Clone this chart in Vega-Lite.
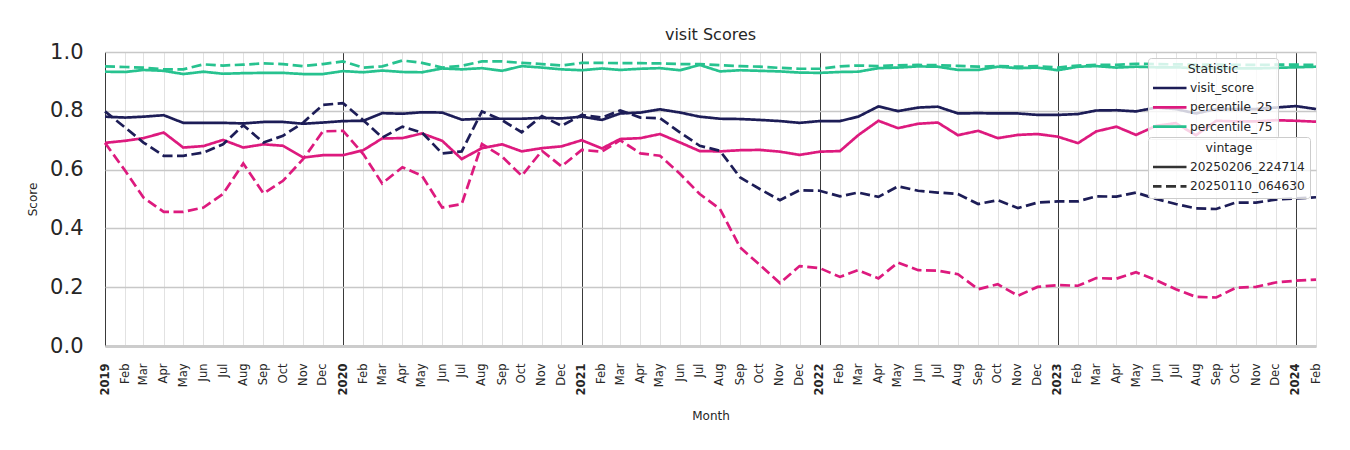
{
  "$schema": "https://vega.github.io/schema/vega-lite/v6.json",
  "width": 1211,
  "height": 294,
  "autosize": "none",
  "padding": {"left": 105, "top": 52, "right": 34, "bottom": 104},
  "background": "white",
  "title": {"text": "visit Scores", "fontSize": 16, "font": "DejaVu Sans", "fontWeight": "normal", "color": "#262626", "offset": -2},
  "data": {"values": [
    {"month":"2019-01-01","vintage":"20250206_224714","visit_score":0.780,"percentile_25":0.691,"percentile_75":0.933},
    {"month":"2019-02-01","vintage":"20250206_224714","visit_score":0.777,"percentile_25":0.698,"percentile_75":0.932},
    {"month":"2019-03-01","vintage":"20250206_224714","visit_score":0.780,"percentile_25":0.707,"percentile_75":0.939},
    {"month":"2019-04-01","vintage":"20250206_224714","visit_score":0.785,"percentile_25":0.726,"percentile_75":0.936},
    {"month":"2019-05-01","vintage":"20250206_224714","visit_score":0.759,"percentile_25":0.675,"percentile_75":0.925},
    {"month":"2019-06-01","vintage":"20250206_224714","visit_score":0.759,"percentile_25":0.680,"percentile_75":0.933},
    {"month":"2019-07-01","vintage":"20250206_224714","visit_score":0.759,"percentile_25":0.701,"percentile_75":0.926},
    {"month":"2019-08-01","vintage":"20250206_224714","visit_score":0.757,"percentile_25":0.675,"percentile_75":0.928},
    {"month":"2019-09-01","vintage":"20250206_224714","visit_score":0.762,"percentile_25":0.686,"percentile_75":0.929},
    {"month":"2019-10-01","vintage":"20250206_224714","visit_score":0.762,"percentile_25":0.681,"percentile_75":0.929},
    {"month":"2019-11-01","vintage":"20250206_224714","visit_score":0.756,"percentile_25":0.641,"percentile_75":0.925},
    {"month":"2019-12-01","vintage":"20250206_224714","visit_score":0.760,"percentile_25":0.649,"percentile_75":0.925},
    {"month":"2020-01-01","vintage":"20250206_224714","visit_score":0.765,"percentile_25":0.649,"percentile_75":0.935},
    {"month":"2020-02-01","vintage":"20250206_224714","visit_score":0.766,"percentile_25":0.666,"percentile_75":0.931},
    {"month":"2020-03-01","vintage":"20250206_224714","visit_score":0.792,"percentile_25":0.706,"percentile_75":0.937},
    {"month":"2020-04-01","vintage":"20250206_224714","visit_score":0.790,"percentile_25":0.707,"percentile_75":0.932},
    {"month":"2020-05-01","vintage":"20250206_224714","visit_score":0.795,"percentile_25":0.723,"percentile_75":0.931},
    {"month":"2020-06-01","vintage":"20250206_224714","visit_score":0.794,"percentile_25":0.698,"percentile_75":0.944},
    {"month":"2020-07-01","vintage":"20250206_224714","visit_score":0.770,"percentile_25":0.636,"percentile_75":0.941},
    {"month":"2020-08-01","vintage":"20250206_224714","visit_score":0.773,"percentile_25":0.673,"percentile_75":0.945},
    {"month":"2020-09-01","vintage":"20250206_224714","visit_score":0.773,"percentile_25":0.686,"percentile_75":0.936},
    {"month":"2020-10-01","vintage":"20250206_224714","visit_score":0.773,"percentile_25":0.662,"percentile_75":0.952},
    {"month":"2020-11-01","vintage":"20250206_224714","visit_score":0.776,"percentile_25":0.673,"percentile_75":0.947},
    {"month":"2020-12-01","vintage":"20250206_224714","visit_score":0.774,"percentile_25":0.679,"percentile_75":0.941},
    {"month":"2021-01-01","vintage":"20250206_224714","visit_score":0.780,"percentile_25":0.700,"percentile_75":0.938},
    {"month":"2021-02-01","vintage":"20250206_224714","visit_score":0.769,"percentile_25":0.672,"percentile_75":0.944},
    {"month":"2021-03-01","vintage":"20250206_224714","visit_score":0.791,"percentile_25":0.704,"percentile_75":0.939},
    {"month":"2021-04-01","vintage":"20250206_224714","visit_score":0.794,"percentile_25":0.707,"percentile_75":0.943},
    {"month":"2021-05-01","vintage":"20250206_224714","visit_score":0.805,"percentile_25":0.721,"percentile_75":0.945},
    {"month":"2021-06-01","vintage":"20250206_224714","visit_score":0.794,"percentile_25":0.692,"percentile_75":0.938},
    {"month":"2021-07-01","vintage":"20250206_224714","visit_score":0.780,"percentile_25":0.663,"percentile_75":0.956},
    {"month":"2021-08-01","vintage":"20250206_224714","visit_score":0.773,"percentile_25":0.662,"percentile_75":0.934},
    {"month":"2021-09-01","vintage":"20250206_224714","visit_score":0.772,"percentile_25":0.666,"percentile_75":0.938},
    {"month":"2021-10-01","vintage":"20250206_224714","visit_score":0.769,"percentile_25":0.667,"percentile_75":0.936},
    {"month":"2021-11-01","vintage":"20250206_224714","visit_score":0.765,"percentile_25":0.661,"percentile_75":0.934},
    {"month":"2021-12-01","vintage":"20250206_224714","visit_score":0.759,"percentile_25":0.650,"percentile_75":0.930},
    {"month":"2022-01-01","vintage":"20250206_224714","visit_score":0.765,"percentile_25":0.661,"percentile_75":0.929},
    {"month":"2022-02-01","vintage":"20250206_224714","visit_score":0.765,"percentile_25":0.663,"percentile_75":0.932},
    {"month":"2022-03-01","vintage":"20250206_224714","visit_score":0.780,"percentile_25":0.717,"percentile_75":0.933},
    {"month":"2022-04-01","vintage":"20250206_224714","visit_score":0.815,"percentile_25":0.766,"percentile_75":0.945},
    {"month":"2022-05-01","vintage":"20250206_224714","visit_score":0.799,"percentile_25":0.741,"percentile_75":0.947},
    {"month":"2022-06-01","vintage":"20250206_224714","visit_score":0.811,"percentile_25":0.756,"percentile_75":0.951},
    {"month":"2022-07-01","vintage":"20250206_224714","visit_score":0.814,"percentile_25":0.760,"percentile_75":0.950},
    {"month":"2022-08-01","vintage":"20250206_224714","visit_score":0.791,"percentile_25":0.717,"percentile_75":0.939},
    {"month":"2022-09-01","vintage":"20250206_224714","visit_score":0.792,"percentile_25":0.732,"percentile_75":0.939},
    {"month":"2022-10-01","vintage":"20250206_224714","visit_score":0.791,"percentile_25":0.707,"percentile_75":0.950},
    {"month":"2022-11-01","vintage":"20250206_224714","visit_score":0.791,"percentile_25":0.718,"percentile_75":0.945},
    {"month":"2022-12-01","vintage":"20250206_224714","visit_score":0.786,"percentile_25":0.721,"percentile_75":0.947},
    {"month":"2023-01-01","vintage":"20250206_224714","visit_score":0.786,"percentile_25":0.712,"percentile_75":0.938},
    {"month":"2023-02-01","vintage":"20250206_224714","visit_score":0.789,"percentile_25":0.690,"percentile_75":0.950},
    {"month":"2023-03-01","vintage":"20250206_224714","visit_score":0.801,"percentile_25":0.730,"percentile_75":0.952},
    {"month":"2023-04-01","vintage":"20250206_224714","visit_score":0.802,"percentile_25":0.746,"percentile_75":0.947},
    {"month":"2023-05-01","vintage":"20250206_224714","visit_score":0.798,"percentile_25":0.718,"percentile_75":0.950},
    {"month":"2023-06-01","vintage":"20250206_224714","visit_score":0.811,"percentile_25":0.749,"percentile_75":0.948},
    {"month":"2023-07-01","vintage":"20250206_224714","visit_score":0.806,"percentile_25":0.758,"percentile_75":0.948},
    {"month":"2023-08-01","vintage":"20250206_224714","visit_score":0.791,"percentile_25":0.717,"percentile_75":0.945},
    {"month":"2023-09-01","vintage":"20250206_224714","visit_score":0.806,"percentile_25":0.766,"percentile_75":0.944},
    {"month":"2023-10-01","vintage":"20250206_224714","visit_score":0.806,"percentile_25":0.764,"percentile_75":0.944},
    {"month":"2023-11-01","vintage":"20250206_224714","visit_score":0.806,"percentile_25":0.764,"percentile_75":0.944},
    {"month":"2023-12-01","vintage":"20250206_224714","visit_score":0.811,"percentile_25":0.768,"percentile_75":0.946},
    {"month":"2024-01-01","vintage":"20250206_224714","visit_score":0.816,"percentile_25":0.766,"percentile_75":0.948},
    {"month":"2024-02-01","vintage":"20250206_224714","visit_score":0.806,"percentile_25":0.763,"percentile_75":0.950},
    {"month":"2019-01-01","vintage":"20250110_064630","visit_score":0.798,"percentile_25":0.691,"percentile_75":0.951},
    {"month":"2019-02-01","vintage":"20250110_064630","visit_score":0.743,"percentile_25":0.596,"percentile_75":0.949},
    {"month":"2019-03-01","vintage":"20250110_064630","visit_score":0.692,"percentile_25":0.505,"percentile_75":0.947},
    {"month":"2019-04-01","vintage":"20250110_064630","visit_score":0.647,"percentile_25":0.456,"percentile_75":0.941},
    {"month":"2019-05-01","vintage":"20250110_064630","visit_score":0.647,"percentile_25":0.456,"percentile_75":0.941},
    {"month":"2019-06-01","vintage":"20250110_064630","visit_score":0.658,"percentile_25":0.471,"percentile_75":0.958},
    {"month":"2019-07-01","vintage":"20250110_064630","visit_score":0.686,"percentile_25":0.517,"percentile_75":0.954},
    {"month":"2019-08-01","vintage":"20250110_064630","visit_score":0.751,"percentile_25":0.621,"percentile_75":0.957},
    {"month":"2019-09-01","vintage":"20250110_064630","visit_score":0.692,"percentile_25":0.519,"percentile_75":0.961},
    {"month":"2019-10-01","vintage":"20250110_064630","visit_score":0.715,"percentile_25":0.562,"percentile_75":0.959},
    {"month":"2019-11-01","vintage":"20250110_064630","visit_score":0.760,"percentile_25":0.636,"percentile_75":0.952},
    {"month":"2019-12-01","vintage":"20250110_064630","visit_score":0.820,"percentile_25":0.730,"percentile_75":0.959},
    {"month":"2020-01-01","vintage":"20250110_064630","visit_score":0.826,"percentile_25":0.732,"percentile_75":0.968},
    {"month":"2020-02-01","vintage":"20250110_064630","visit_score":0.768,"percentile_25":0.653,"percentile_75":0.947},
    {"month":"2020-03-01","vintage":"20250110_064630","visit_score":0.709,"percentile_25":0.553,"percentile_75":0.951},
    {"month":"2020-04-01","vintage":"20250110_064630","visit_score":0.746,"percentile_25":0.608,"percentile_75":0.971},
    {"month":"2020-05-01","vintage":"20250110_064630","visit_score":0.726,"percentile_25":0.579,"percentile_75":0.963},
    {"month":"2020-06-01","vintage":"20250110_064630","visit_score":0.655,"percentile_25":0.471,"percentile_75":0.947},
    {"month":"2020-07-01","vintage":"20250110_064630","visit_score":0.662,"percentile_25":0.483,"percentile_75":0.953},
    {"month":"2020-08-01","vintage":"20250110_064630","visit_score":0.798,"percentile_25":0.687,"percentile_75":0.968},
    {"month":"2020-09-01","vintage":"20250110_064630","visit_score":0.768,"percentile_25":0.644,"percentile_75":0.968},
    {"month":"2020-10-01","vintage":"20250110_064630","visit_score":0.727,"percentile_25":0.579,"percentile_75":0.963},
    {"month":"2020-11-01","vintage":"20250110_064630","visit_score":0.782,"percentile_25":0.664,"percentile_75":0.959},
    {"month":"2020-12-01","vintage":"20250110_064630","visit_score":0.749,"percentile_25":0.611,"percentile_75":0.954},
    {"month":"2021-01-01","vintage":"20250110_064630","visit_score":0.786,"percentile_25":0.667,"percentile_75":0.963},
    {"month":"2021-02-01","vintage":"20250110_064630","visit_score":0.777,"percentile_25":0.661,"percentile_75":0.963},
    {"month":"2021-03-01","vintage":"20250110_064630","visit_score":0.801,"percentile_25":0.700,"percentile_75":0.962},
    {"month":"2021-04-01","vintage":"20250110_064630","visit_score":0.777,"percentile_25":0.655,"percentile_75":0.962},
    {"month":"2021-05-01","vintage":"20250110_064630","visit_score":0.775,"percentile_25":0.647,"percentile_75":0.961},
    {"month":"2021-06-01","vintage":"20250110_064630","visit_score":0.726,"percentile_25":0.585,"percentile_75":0.959},
    {"month":"2021-07-01","vintage":"20250110_064630","visit_score":0.681,"percentile_25":0.517,"percentile_75":0.959},
    {"month":"2021-08-01","vintage":"20250110_064630","visit_score":0.664,"percentile_25":0.466,"percentile_75":0.955},
    {"month":"2021-09-01","vintage":"20250110_064630","visit_score":0.573,"percentile_25":0.335,"percentile_75":0.952},
    {"month":"2021-10-01","vintage":"20250110_064630","visit_score":0.534,"percentile_25":0.276,"percentile_75":0.950},
    {"month":"2021-11-01","vintage":"20250110_064630","visit_score":0.496,"percentile_25":0.214,"percentile_75":0.946},
    {"month":"2021-12-01","vintage":"20250110_064630","visit_score":0.530,"percentile_25":0.272,"percentile_75":0.943},
    {"month":"2022-01-01","vintage":"20250110_064630","visit_score":0.528,"percentile_25":0.265,"percentile_75":0.943},
    {"month":"2022-02-01","vintage":"20250110_064630","visit_score":0.509,"percentile_25":0.235,"percentile_75":0.951},
    {"month":"2022-03-01","vintage":"20250110_064630","visit_score":0.522,"percentile_25":0.258,"percentile_75":0.954},
    {"month":"2022-04-01","vintage":"20250110_064630","visit_score":0.507,"percentile_25":0.230,"percentile_75":0.952},
    {"month":"2022-05-01","vintage":"20250110_064630","visit_score":0.543,"percentile_25":0.284,"percentile_75":0.955},
    {"month":"2022-06-01","vintage":"20250110_064630","visit_score":0.528,"percentile_25":0.258,"percentile_75":0.956},
    {"month":"2022-07-01","vintage":"20250110_064630","visit_score":0.522,"percentile_25":0.256,"percentile_75":0.955},
    {"month":"2022-08-01","vintage":"20250110_064630","visit_score":0.517,"percentile_25":0.244,"percentile_75":0.953},
    {"month":"2022-09-01","vintage":"20250110_064630","visit_score":0.483,"percentile_25":0.193,"percentile_75":0.950},
    {"month":"2022-10-01","vintage":"20250110_064630","visit_score":0.496,"percentile_25":0.210,"percentile_75":0.952},
    {"month":"2022-11-01","vintage":"20250110_064630","visit_score":0.469,"percentile_25":0.171,"percentile_75":0.950},
    {"month":"2022-12-01","vintage":"20250110_064630","visit_score":0.488,"percentile_25":0.201,"percentile_75":0.952},
    {"month":"2023-01-01","vintage":"20250110_064630","visit_score":0.492,"percentile_25":0.207,"percentile_75":0.947},
    {"month":"2023-02-01","vintage":"20250110_064630","visit_score":0.492,"percentile_25":0.205,"percentile_75":0.954},
    {"month":"2023-03-01","vintage":"20250110_064630","visit_score":0.509,"percentile_25":0.231,"percentile_75":0.956},
    {"month":"2023-04-01","vintage":"20250110_064630","visit_score":0.508,"percentile_25":0.229,"percentile_75":0.956},
    {"month":"2023-05-01","vintage":"20250110_064630","visit_score":0.522,"percentile_25":0.251,"percentile_75":0.960},
    {"month":"2023-06-01","vintage":"20250110_064630","visit_score":0.500,"percentile_25":0.224,"percentile_75":0.959},
    {"month":"2023-07-01","vintage":"20250110_064630","visit_score":0.483,"percentile_25":0.193,"percentile_75":0.958},
    {"month":"2023-08-01","vintage":"20250110_064630","visit_score":0.468,"percentile_25":0.167,"percentile_75":0.957},
    {"month":"2023-09-01","vintage":"20250110_064630","visit_score":0.466,"percentile_25":0.165,"percentile_75":0.957},
    {"month":"2023-10-01","vintage":"20250110_064630","visit_score":0.488,"percentile_25":0.198,"percentile_75":0.956},
    {"month":"2023-11-01","vintage":"20250110_064630","visit_score":0.488,"percentile_25":0.201,"percentile_75":0.956},
    {"month":"2023-12-01","vintage":"20250110_064630","visit_score":0.498,"percentile_25":0.216,"percentile_75":0.957},
    {"month":"2024-01-01","vintage":"20250110_064630","visit_score":0.502,"percentile_25":0.222,"percentile_75":0.957},
    {"month":"2024-02-01","vintage":"20250110_064630","visit_score":0.506,"percentile_25":0.226,"percentile_75":0.956}
  ]},
  "transform": [{"fold": ["visit_score", "percentile_25", "percentile_75"], "as": ["statistic", "score"]}],
  "mark": {"type": "line", "strokeWidth": 2.7},
  "encoding": {
    "x": {
      "field": "month", "type": "temporal", "title": "Month",
      "scale": {"type": "utc", "domain": [{"year": 2019, "month": 1, "date": 1, "utc": true}, {"year": 2024, "month": 2, "date": 1, "utc": true}]},
      "axis": {
        "tickCount": {"interval": "month", "step": 1},
        "labelExpr": "utcmonth(datum.value) == 0 ? utcFormat(datum.value, '%Y') : utcFormat(datum.value, '%b')",
        "labelAngle": -90,
        "labelFontSize": 11.5,
        "labelColor": "#262626",
        "labelFontWeight": {"condition": {"test": "utcmonth(datum.value) == 0", "value": "bold"}, "value": "normal"},
        "labelPadding": 17,
        "labelOverlap": false,
        "labelFlush": false,
        "labelBound": false,
        "grid": true,
        "gridColor": {"condition": {"test": "utcmonth(datum.value) == 0", "value": "#3a3a3a"}, "value": "#e2e2e2"},
        "gridWidth": 1,
        "ticks": false,
        "domain": true,
        "domainColor": "#cccccc",
        "domainWidth": 3,
        "titleFontSize": 12,
        "titleFontWeight": "normal",
        "titleColor": "#262626",
        "titlePadding": 15
      }
    },
    "y": {
      "field": "score", "type": "quantitative", "title": "Score",
      "scale": {"domain": [0, 1], "nice": false},
      "axis": {
        "values": [0, 0.2, 0.4, 0.6, 0.8, 1.0],
        "format": ".1f",
        "labelFontSize": 21,
        "labelColor": "#262626",
        "labelPadding": 22,
        "labelFlush": false,
        "ticks": false,
        "domain": false,
        "grid": true,
        "gridColor": "#c8c8c8",
        "gridWidth": 1.5,
        "titleFontSize": 12,
        "titleFontWeight": "normal",
        "titleColor": "#262626",
        "titlePadding": 10
      }
    },
    "color": {
      "field": "statistic", "type": "nominal", "title": "Statistic",
      "scale": {"domain": ["visit_score", "percentile_25", "percentile_75"], "range": ["#1d1d57", "#dd1a7e", "#27c28f"]},
      "legend": {
        "orient": "none", "legendX": 1043, "legendY": 6,
        "symbolType": "stroke", "symbolSize": 1225, "symbolStrokeWidth": 2.7, "symbolOffset": -3,
        "clipHeight": 13, "rowPadding": 6.3,
        "labelFontSize": 12.2, "labelColor": "#262626", "labelOffset": 2,
        "labelExpr": "datum.label + '        '",
        "titleFontSize": 12.5, "titleFontWeight": "normal", "titleColor": "#262626",
        "titleAnchor": "middle", "titleAlign": "center", "titlePadding": 6,
        "padding": 5, "fillColor": "rgba(255,255,255,0.8)", "strokeColor": "#cccccc", "cornerRadius": 3
      }
    },
    "strokeDash": {
      "field": "vintage", "type": "nominal", "title": "vintage",
      "scale": {"domain": ["20250206_224714", "20250110_064630"], "range": [[1, 0], [10, 4.5]]},
      "legend": {
        "orient": "none", "legendX": 1043, "legendY": 85,
        "symbolType": "stroke", "symbolSize": 1225, "symbolStrokeWidth": 2.7, "symbolStrokeColor": "#333333", "symbolOffset": -3,
        "clipHeight": 13, "rowPadding": 6.3,
        "labelFontSize": 12.2, "labelColor": "#262626", "labelOffset": 2,
        "titleFontSize": 12.5, "titleFontWeight": "normal", "titleColor": "#262626",
        "titleAnchor": "middle", "titleAlign": "center", "titlePadding": 6,
        "padding": 5, "fillColor": "rgba(255,255,255,0.8)", "strokeColor": "#cccccc", "cornerRadius": 3
      }
    }
  },
  "config": {"view": {"stroke": null}, "font": "DejaVu Sans"}
}
